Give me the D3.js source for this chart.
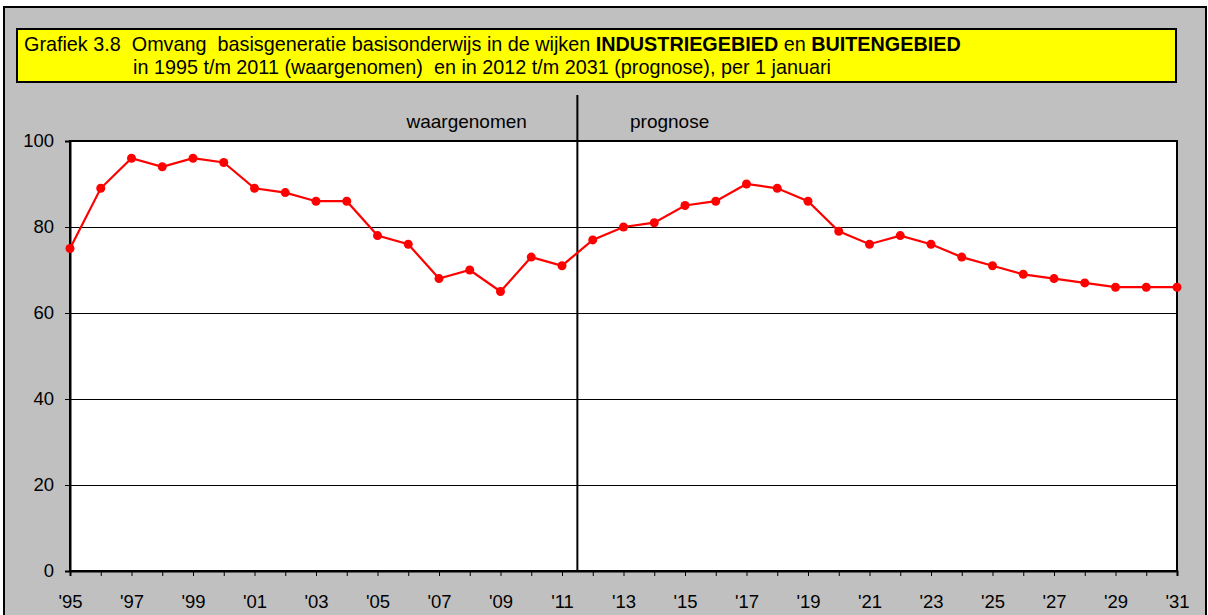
<!DOCTYPE html>
<html>
<head>
<meta charset="utf-8">
<script src="https://cdn.jsdelivr.net/npm/d3@7"></script>
<style>
  body { margin: 0; background: #fff; }
  svg text { font-family: "Liberation Sans", Arial, sans-serif; fill: #000; white-space: pre; }
</style>
</head>
<body>
<svg id="chart" width="1208" height="615"></svg>
<script>
// data
const years = d3.range(1995, 2032);
const values = [75, 89, 96, 94, 96, 95, 89, 88, 86, 86, 78, 76, 68, 70, 65, 73, 71,
  77, 80, 81, 85, 86, 90, 89, 86, 79, 76, 78, 76, 73, 71, 69, 68, 67, 66, 66, 66];
const yTicks = [0, 20, 40, 60, 80, 100];
const labelYears = d3.range(1995, 2032, 2);
const lastObserved = 2011;

const svg = d3.select('#chart');

// outer grey frame
svg.append('rect')
  .attr('x', 4).attr('y', 7)
  .attr('width', 1202).attr('height', 620)
  .attr('fill', '#c0c0c0')
  .attr('stroke', '#000').attr('stroke-width', 2);

// title box
svg.append('rect')
  .attr('x', 17).attr('y', 29)
  .attr('width', 1159).attr('height', 53)
  .attr('fill', '#ffff00')
  .attr('stroke', '#000').attr('stroke-width', 2);

const title1 = svg.append('text').attr('x', 24).attr('y', 51).style('font-size', '19.8px');
title1.append('tspan').text('Grafiek 3.8  Omvang  basisgeneratie basisonderwijs in de wijken ');
title1.append('tspan').style('font-weight', 'bold').text('INDUSTRIEGEBIED');
title1.append('tspan').text(' en ');
title1.append('tspan').style('font-weight', 'bold').text('BUITENGEBIED');

svg.append('text').attr('x', 133).attr('y', 74).style('font-size', '19.8px')
  .text('in 1995 t/m 2011 (waargenomen)  en in 2012 t/m 2031 (prognose), per 1 januari');

const margin = { top: 141, left: 70, right: 1177, bottom: 571 };

const x = d3.scaleLinear()
  .domain([1995, 2031])
  .range([margin.left, margin.right]);

const y = d3.scaleLinear()
  .domain([0, 100])
  .range([margin.bottom, margin.top]);

// plot background
svg.append('rect')
  .attr('x', margin.left).attr('y', margin.top)
  .attr('width', margin.right - margin.left).attr('height', margin.bottom - margin.top)
  .attr('fill', '#fff');

// gridlines
svg.selectAll('.grid')
  .data(yTicks.filter(d => d > 0 && d < 100))
  .enter().append('line')
  .attr('class', 'grid')
  .attr('x1', margin.left).attr('x2', margin.right)
  .attr('y1', d => y(d) + 0.5).attr('y2', d => y(d) + 0.5)
  .attr('stroke', '#000').attr('stroke-width', 1);

// frame
svg.append('rect')
  .attr('x', margin.left).attr('y', margin.top)
  .attr('width', margin.right - margin.left).attr('height', margin.bottom - margin.top)
  .attr('fill', 'none')
  .attr('stroke', '#000').attr('stroke-width', 2);

// y axis
const yAxis = svg.append('g')
  .attr('transform', `translate(${margin.left},0)`)
  .call(d3.axisLeft(y).tickValues(yTicks).tickSize(5).tickPadding(11));
yAxis.select('.domain').attr('stroke-width', 2);
yAxis.selectAll('text').style('font-size', '18.5px').attr('fill', '#000');

// x axis
const xAxis = svg.append('g')
  .attr('transform', `translate(0,${margin.bottom})`)
  .call(d3.axisBottom(x).tickValues(years).tickSize(5).tickPadding(19)
    .tickFormat(d => labelYears.includes(d) ? "'" + String(d).slice(2) : ''));
xAxis.select('.domain').attr('stroke-width', 2);
xAxis.selectAll('text').style('font-size', '18.5px').attr('fill', '#000');

// divider between observed and forecast
const xDiv = x(lastObserved + 0.5);
svg.append('line')
  .attr('x1', xDiv).attr('x2', xDiv)
  .attr('y1', 95).attr('y2', margin.bottom)
  .attr('stroke', '#000').attr('stroke-width', 2);

svg.append('text').attr('x', x(2007.9)).attr('y', 128)
  .attr('text-anchor', 'middle').style('font-size', '19px').text('waargenomen');
svg.append('text').attr('x', x(2014.5)).attr('y', 128)
  .attr('text-anchor', 'middle').style('font-size', '19px').text('prognose');

// line + points
const data = years.map((yr, i) => ({ year: yr, value: values[i] }));

svg.append('path')
  .datum(data)
  .attr('fill', 'none')
  .attr('stroke', '#ff0000')
  .attr('stroke-width', 2.2)
  .attr('d', d3.line().x(d => x(d.year)).y(d => y(d.value)));

svg.selectAll('.pt')
  .data(data)
  .enter().append('circle')
  .attr('class', 'pt')
  .attr('cx', d => x(d.year))
  .attr('cy', d => y(d.value))
  .attr('r', 4.5)
  .attr('fill', '#ff0000');
</script>
</body>
</html>
